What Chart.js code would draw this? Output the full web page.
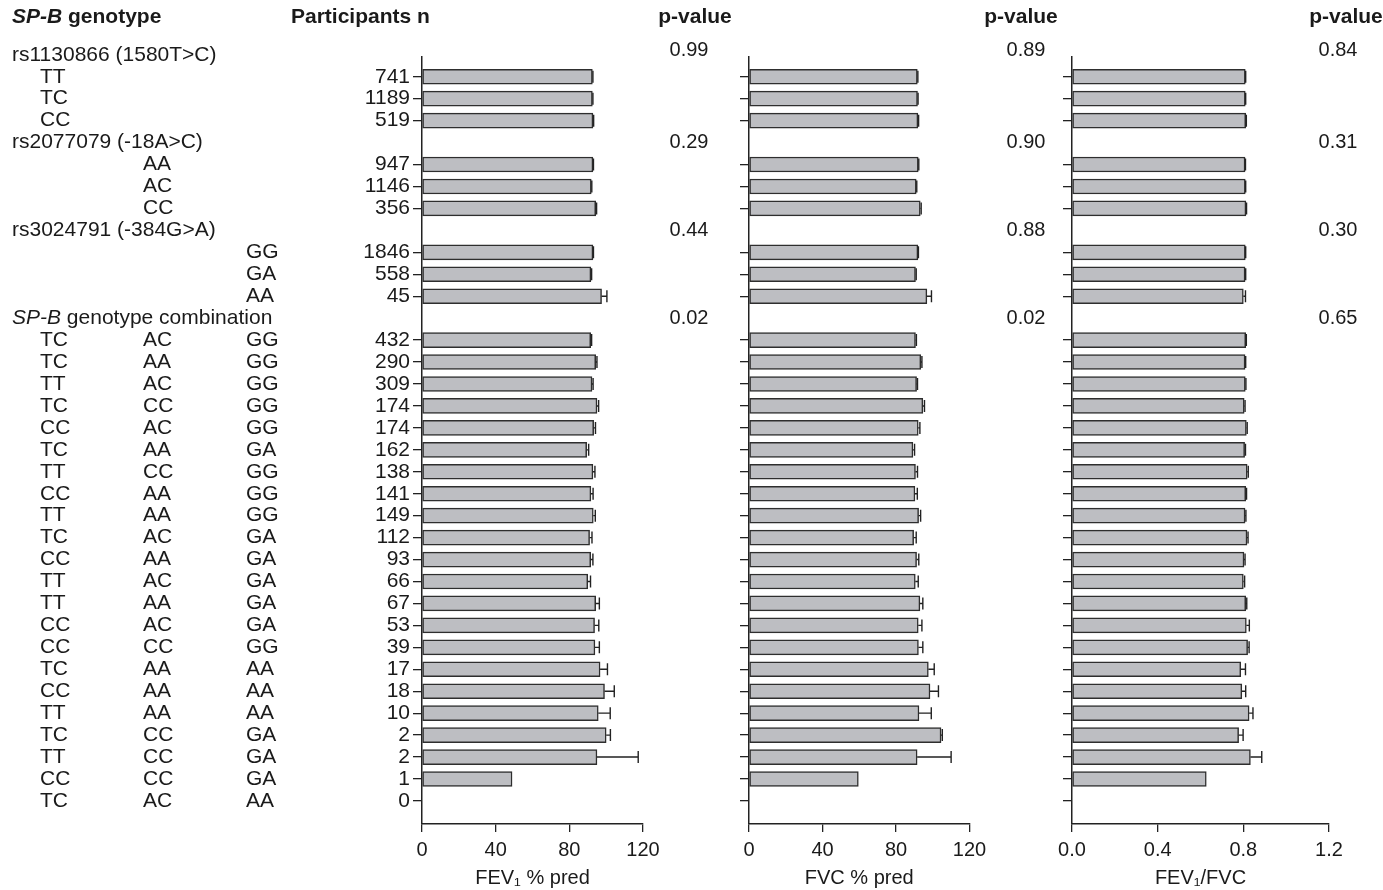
<!DOCTYPE html>
<html>
<head>
<meta charset="utf-8">
<script src="https://cdn.jsdelivr.net/npm/chart.js@4.4.1/dist/chart.umd.min.js"></script>
<style>
  html, body { margin: 0; padding: 0; background: #ffffff; }
  #wrap { position: relative; width: 1383px; height: 890px; }
  canvas { position: absolute; left: 0; top: 0; }
</style>
</head>
<body>
<div id="wrap">
  <canvas id="cA" width="1383" height="890"></canvas>
  <canvas id="cB" width="1383" height="890"></canvas>
  <canvas id="cC" width="1383" height="890"></canvas>
</div>
<script>
// ---------------- DATA ----------------
const groupHeaders = ['rs1130866 (1580T>C)', 'rs2077079 (-18A>C)', 'rs3024791 (-384G>A)', 'SP-B genotype combination'];
const snp1Genotypes = ['TT', 'TC', 'CC'];
const snp2Genotypes = ['AA', 'AC', 'CC'];
const snp3Genotypes = ['GG', 'GA', 'AA'];
const comboSnp1 = ['TC','TC','TT','TC','CC','TC','TT','CC','TT','TC','CC','TT','TT','CC','CC','TC','CC','TT','TC','TT','CC','TC'];
const comboSnp2 = ['AC','AA','AC','CC','AC','AA','CC','AA','AA','AC','AA','AC','AA','AC','CC','AA','AA','AA','CC','CC','CC','AC'];
const comboSnp3 = ['GG','GG','GG','GG','GG','GA','GG','GG','GG','GA','GA','GA','GA','GA','GG','AA','AA','AA','GA','GA','GA','AA'];

const participants = [741, 1189, 519, 947, 1146, 356, 1846, 558, 45,
  432, 290, 309, 174, 174, 162, 138, 141, 149, 112, 93, 66, 67, 53, 39, 17, 18, 10, 2, 2, 1, 0];

const fev1 = [92.5, 92.5, 92.8, 92.8, 91.9, 94.3, 92.8, 91.7, 97.5,
  91.6, 94.3, 92.3, 95.0, 93.2, 89.4, 92.8, 91.7, 93.0, 91.0, 91.6, 90.0, 94.3, 93.7, 93.9, 96.7, 99.1, 95.7, 100.0, 95.0, 48.9, null];
const fev1Err = [0.3, 0.3, 0.4, 0.3, 0.3, 0.5, 0.3, 0.4, 2.9,
  0.5, 0.7, 0.6, 0.9, 1.0, 1.1, 1.1, 1.2, 1.1, 1.3, 1.2, 1.5, 2.0, 2.3, 2.4, 4.0, 5.3, 6.5, 2.3, 22.4, 0, 0];

const fvc = [91.6, 91.7, 91.9, 92.1, 91.0, 93.2, 91.9, 90.6, 96.8,
  90.6, 93.5, 91.2, 94.6, 92.1, 89.2, 90.6, 90.3, 92.3, 89.6, 91.2, 90.5, 93.0, 92.1, 92.2, 97.6, 98.5, 92.5, 104.5, 91.5, 59.5, null];
const fvcErr = [0.3, 0.3, 0.4, 0.3, 0.3, 0.5, 0.3, 0.4, 2.5,
  0.5, 0.6, 0.5, 0.9, 0.9, 0.9, 1.1, 1.3, 1.1, 1.4, 1.2, 1.6, 1.6, 2.0, 2.4, 3.2, 4.6, 6.7, 0.7, 18.5, 0, 0];

const ratio = [0.809, 0.809, 0.811, 0.808, 0.809, 0.812, 0.809, 0.808, 0.800,
  0.811, 0.808, 0.809, 0.804, 0.814, 0.806, 0.818, 0.811, 0.808, 0.817, 0.803, 0.800, 0.811, 0.814, 0.820, 0.788, 0.793, 0.827, 0.778, 0.833, 0.627, null];
const ratioErr = [0.002, 0.002, 0.003, 0.002, 0.002, 0.003, 0.002, 0.003, 0.010,
  0.003, 0.003, 0.003, 0.004, 0.004, 0.004, 0.005, 0.004, 0.004, 0.005, 0.005, 0.006, 0.005, 0.014, 0.007, 0.022, 0.018, 0.018, 0.021, 0.053, 0, 0];

const pFev1 = ['0.99', '0.29', '0.44', '0.02'];
const pFvc = ['0.89', '0.90', '0.88', '0.02'];
const pRatio = ['0.84', '0.31', '0.30', '0.65'];

const fevTicks = [0, 40, 80, 120];
const ratioTicks = [0, 0.4, 0.8, 1.2];

// ---------------- ROW LAYOUT (row index on the category axis) ----------------
const headerRows = [0, 4, 8, 12];
const dataRows = [];
for (let i = 0; i < 35; i++) if (!headerRows.includes(i)) dataRows.push(i);

const FONT = "'Liberation Sans', Arial, Helvetica, sans-serif";
const TXT = '#1a1a1a';
const AX = '#222222';
const LBL = 21;

function toPoints(vals) {
  return dataRows.map((r, k) => ({ x: vals[k], y: r }));
}

function errorBarPlugin(vals, errs) {
  return {
    id: 'errbars',
    afterDatasetsDraw(chart) {
      const xs = chart.scales.x, ys = chart.scales.y, ctx = chart.ctx;
      ctx.save();
      ctx.strokeStyle = '#222';
      ctx.lineWidth = 1.4;
      dataRows.forEach((r, k) => {
        const v = vals[k], e = errs[k];
        if (v == null || !e) return;
        const x1 = xs.getPixelForValue(v), x2 = xs.getPixelForValue(v + e);
        const y = ys.getPixelForValue(r);
        ctx.beginPath();
        ctx.moveTo(x1, y); ctx.lineTo(x2, y);
        ctx.moveTo(x2, y - 6); ctx.lineTo(x2, y + 6);
        ctx.stroke();
      });
      ctx.restore();
    }
  };
}

function textPlugin() {
  return {
    id: 'texts',
    afterDraw(chart) {
      const ys = chart.scales.y, ctx = chart.ctx;
      const rowY = r => ys.getPixelForValue(r);
      ctx.save();
      ctx.fillStyle = TXT;
      ctx.textBaseline = 'middle';
      // Column headers
      ctx.textAlign = 'left';
      ctx.font = 'italic bold ' + LBL + 'px ' + FONT;
      ctx.fillText('SP-B', 12, 17);
      let w = ctx.measureText('SP-B').width;
      ctx.font = 'bold ' + LBL + 'px ' + FONT;
      ctx.fillText(' genotype', 12 + w, 17);
      ctx.fillText('Participants n', 291, 17);
      ctx.textAlign = 'center';
      ctx.fillText('p-value', 695, 17);
      ctx.fillText('p-value', 1021, 17);
      ctx.fillText('p-value', 1346, 17);
      // Group headers
      ctx.textAlign = 'left';
      groupHeaders.forEach((h, g) => {
        const y = rowY(headerRows[g]);
        if (h.startsWith('SP-B')) {
          ctx.font = 'italic ' + LBL + 'px ' + FONT;
          ctx.fillText('SP-B', 12, y);
          const ww = ctx.measureText('SP-B').width;
          ctx.font = LBL + 'px ' + FONT;
          ctx.fillText(h.slice(4), 12 + ww, y);
        } else {
          ctx.font = LBL + 'px ' + FONT;
          ctx.fillText(h, 12, y);
        }
      });
      // Genotype rows
      ctx.font = LBL + 'px ' + FONT;
      const colX = [40, 143, 246];
      snp1Genotypes.forEach((g, i) => ctx.fillText(g, colX[0], rowY(1 + i)));
      snp2Genotypes.forEach((g, i) => ctx.fillText(g, colX[1], rowY(5 + i)));
      snp3Genotypes.forEach((g, i) => ctx.fillText(g, colX[2], rowY(9 + i)));
      comboSnp1.forEach((g, i) => {
        const y = rowY(13 + i);
        ctx.fillText(g, colX[0], y);
        ctx.fillText(comboSnp2[i], colX[1], y);
        ctx.fillText(comboSnp3[i], colX[2], y);
      });
      // p-values
      ctx.textAlign = 'center';
      ctx.font = '20px ' + FONT;
      headerRows.forEach((r, g) => {
        const y = rowY(r) - (g === 0 ? 4 : 0);
        ctx.fillText(pFev1[g], 689, y);
        ctx.fillText(pFvc[g], 1026, y);
        ctx.fillText(pRatio[g], 1338, y);
      });
      ctx.restore();
    }
  };
}

function makeChart(id, vals, errs, cfg) {
  const plugins = [errorBarPlugin(vals, errs)];
  if (cfg.texts) plugins.push(textPlugin());
  return new Chart(document.getElementById(id), {
    type: 'bar',
    data: {
      datasets: [{
        data: toPoints(vals),
        backgroundColor: '#bdbec2',
        borderColor: '#2e2e2e',
        borderWidth: 1.5,
        borderSkipped: false,
        barThickness: 15
      }]
    },
    options: {
      indexAxis: 'y',
      responsive: false,
      animation: false,
      devicePixelRatio: 1,
      layout: { padding: { left: cfg.padLeft, right: cfg.padRight, top: 57, bottom: 0 } },
      plugins: { legend: { display: false }, tooltip: { enabled: false } },
      scales: {
        y: {
          type: 'linear',
          reverse: true,
          offset: false,
          min: 0.1,
          max: 35.05,
          afterBuildTicks: s => { s.ticks = dataRows.map(v => ({ value: v })); },
          afterFit: s => { s.width = cfg.yWidth; },
          border: { display: true, color: AX, width: 1.5 },
          grid: { display: true, offset: false, drawOnChartArea: false, drawTicks: true, tickLength: 9, color: AX, lineWidth: 1.3 },
          ticks: {
            display: cfg.showN,
            autoSkip: false,
            padding: 3,
            color: TXT,
            font: { family: FONT, size: LBL },
            callback: v => { const k = dataRows.indexOf(v); return k >= 0 ? String(participants[k]) : ''; }
          }
        },
        x: {
          type: 'linear',
          min: 0,
          max: cfg.max,
          offset: false,
          afterBuildTicks: s => { s.ticks = cfg.ticks.map(v => ({ value: v })); },
          afterFit: s => { s.height = 66; },
          border: { display: true, color: AX, width: 1.5 },
          grid: { display: true, offset: false, drawOnChartArea: false, drawTicks: true, tickLength: 8, color: AX, lineWidth: 1.3 },
          ticks: {
            autoSkip: false,
            maxRotation: 0,
            padding: 6,
            color: TXT,
            font: { family: FONT, size: 20 },
            callback: cfg.fmt
          },
          title: {
            display: true,
            text: cfg.title,
            color: TXT,
            font: { family: FONT, size: 20 },
            padding: { top: 0, bottom: 0 }
          }
        }
      }
    },
    plugins
  });
}

makeChart('cA', fev1, fev1Err, {
  padLeft: 302, padRight: 1383 - 643, yWidth: 120, showN: true, texts: true,
  max: 120, ticks: fevTicks, fmt: v => String(v), title: 'FEV\u2081 % pred'
});
makeChart('cB', fvc, fvcErr, {
  padLeft: 749 - 12, padRight: 1383 - 969.5, yWidth: 12, showN: false,
  max: 120, ticks: fevTicks, fmt: v => String(v), title: 'FVC % pred'
});
makeChart('cC', ratio, ratioErr, {
  padLeft: 1072 - 12, padRight: 1383 - 1329, yWidth: 12, showN: false,
  max: 1.2, ticks: ratioTicks, fmt: v => Number(v).toFixed(1), title: 'FEV\u2081/FVC'
});
</script>
</body>
</html>
